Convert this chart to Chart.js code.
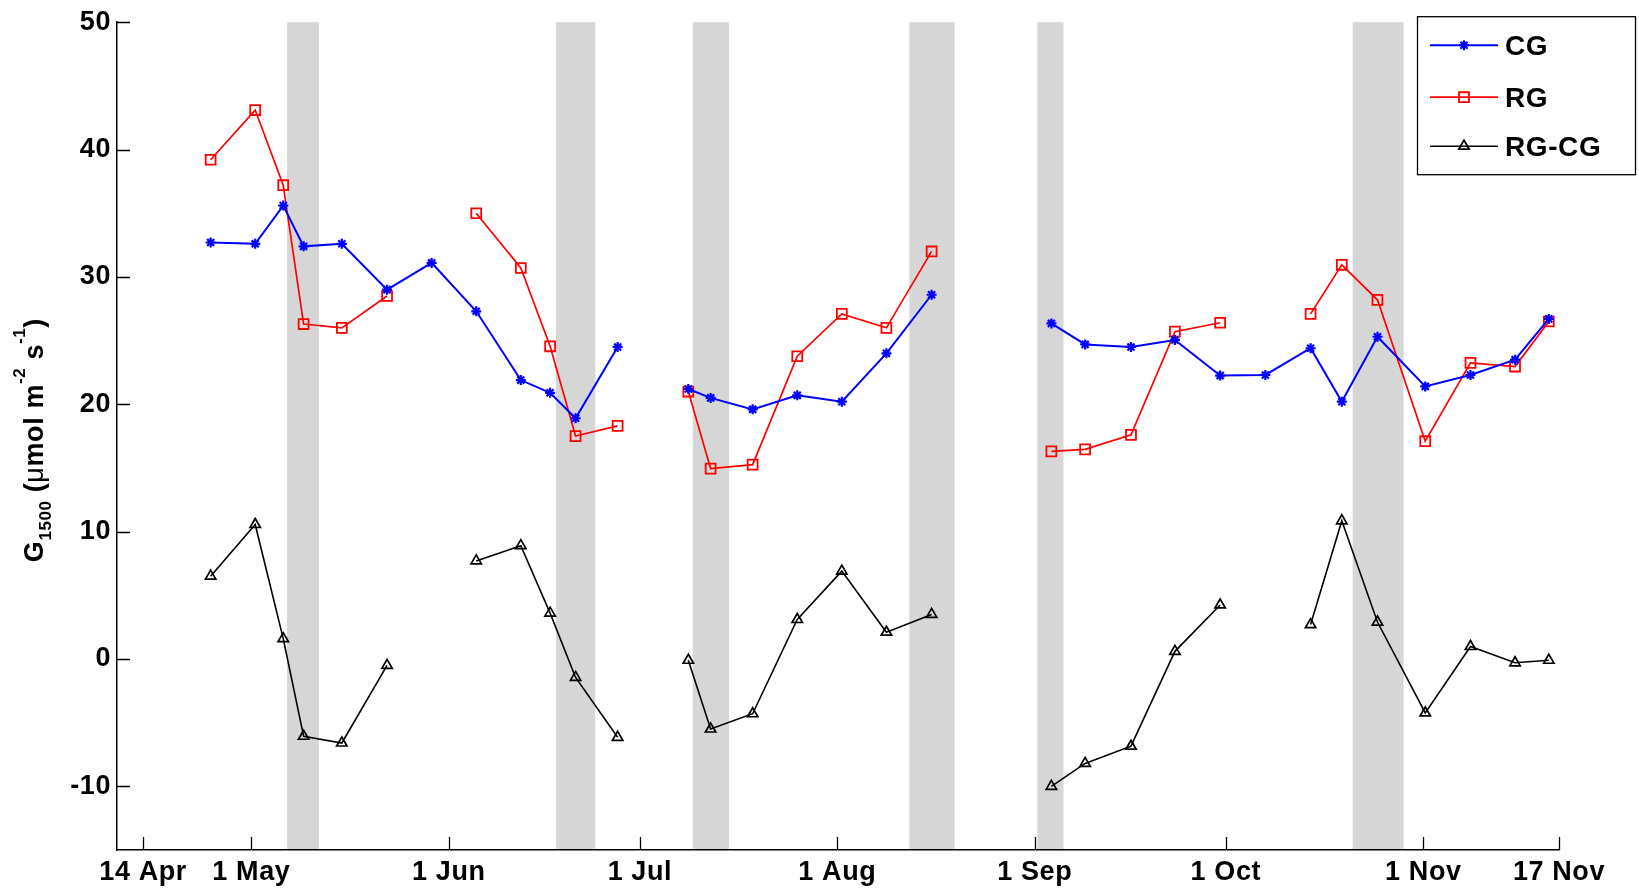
<!DOCTYPE html>
<html><head><meta charset="utf-8">
<script src="https://cdn.jsdelivr.net/npm/chart.js@4.4.1/dist/chart.umd.min.js"></script>
<style>html,body{margin:0;padding:0;background:#fff;overflow:hidden}canvas{display:block}</style>
</head><body>
<canvas id="c" width="1639" height="890"></canvas>
<script>
// sample dates as day of year (null rows mark the breaks between measurement campaigns)
const days = [114.6, 121.6, 126.0, 129.2, 135.2, 142.3, 149.3, 156.3, 163.3, 167.9, 171.9, 178.5,
  184.0,
  189.6, 193.1, 199.7, 206.7, 213.7, 220.7, 227.8,
  237.0,
  246.6, 251.9, 259.1, 266.0, 273.1, 280.2, 287.3, 292.2, 297.8, 305.3, 312.4, 319.4, 324.7];
const cg = [32.7, 32.6, 35.6, 32.4, 32.6, 29.0, 31.1, 27.3, 21.9, 20.9, 18.9, 24.5,
  null,
  21.2, 20.5, 19.6, 20.7, 20.2, 24.0, 28.6,
  null,
  26.35, 24.7, 24.5, 25.05, 22.25, 22.3, 24.4, 20.2, 25.3, 21.4, 22.3, 23.5, 26.7];
const rg = [39.2, 43.1, 37.2, 26.3, 26.0, 28.5, null, 35.0, 30.7, 24.55, 17.5, 18.3,
  null,
  21.0, 14.95, 15.26, 23.77, 27.1, 26.0, 32.0,
  null,
  16.3, 16.46, 17.6, 25.7, 26.4, null, 27.1, 30.95, 28.2, 17.1, 23.25, 22.96, 26.5];
const rgcg = [6.5, 10.56, 1.6, -6.07, -6.6, -0.5, null, 7.7, 8.9, 3.6, -1.45, -6.15,
  null,
  -0.1, -5.5, -4.3, 3.1, 6.9, 2.1, 3.5,
  null,
  -10.0, -8.2, -6.85, 0.6, 4.24, null, 2.7, 10.85, 2.9, -4.24, 0.98, -0.3, -0.1];
const seriesNames = ['CG', 'RG', 'RG-CG'];
const xTickDays = [104, 121, 152, 182, 213, 244, 274, 305, 326.3];
const xTickLabels = ['14 Apr', '1 May', '1 Jun', '1 Jul', '1 Aug', '1 Sep', '1 Oct', '1 Nov', '17 Nov'];
const yTicks = [-10, 0, 10, 20, 30, 40, 50];
const bandStart = [126.6, 168.8, 190.3, 224.3, 244.4, 293.9];
const bandEnd   = [131.6, 175.0, 196.0, 231.4, 248.5, 301.9];

const FONT = "'Liberation Sans', Arial, sans-serif";
const LS = '0.6px';

function mkDataset(label, arr, color, style, radius, bw, pbw) {
  return {
    label, data: days.map((d, i) => ({x: d, y: arr[i]})),
    borderColor: color, backgroundColor: color, borderWidth: bw,
    pointStyle: style, pointRadius: radius, pointBorderColor: color,
    pointBackgroundColor: 'rgba(0,0,0,0)', pointBorderWidth: pbw,
    pointHoverRadius: radius, spanGaps: false, tension: 0, fill: false
  };
}

function drawMarker(ctx, style, x, y, r, color, lw) {
  ctx.save();
  ctx.strokeStyle = color; ctx.lineWidth = lw;
  ctx.beginPath();
  if (style === 'star') {
    ctx.moveTo(x - r, y); ctx.lineTo(x + r, y);
    ctx.moveTo(x, y - r); ctx.lineTo(x, y + r);
    const d = r * Math.SQRT1_2;
    ctx.moveTo(x - d, y - d); ctx.lineTo(x + d, y + d);
    ctx.moveTo(x - d, y + d); ctx.lineTo(x + d, y - d);
  } else if (style === 'rect') {
    const s = r * Math.SQRT1_2;
    ctx.rect(x - s, y - s, 2 * s, 2 * s);
  } else if (style === 'triangle') {
    let a = 0;
    ctx.moveTo(x + Math.sin(a) * r, y - Math.cos(a) * r);
    a += 2 * Math.PI / 3; ctx.lineTo(x + Math.sin(a) * r, y - Math.cos(a) * r);
    a += 2 * Math.PI / 3; ctx.lineTo(x + Math.sin(a) * r, y - Math.cos(a) * r);
    ctx.closePath();
  }
  ctx.stroke();
  ctx.restore();
}

const decorPlugin = {
  id: 'decor',
  beforeLayout(chart) { chart.ctx.letterSpacing = LS; },
  beforeDraw(chart) {
    const {ctx, chartArea: ca, scales: {x}} = chart;
    ctx.letterSpacing = LS;
    ctx.save();
    ctx.fillStyle = '#fff';
    ctx.fillRect(0, 0, chart.width, chart.height);
    ctx.fillStyle = '#d6d6d6';
    for (let i = 0; i < bandStart.length; i++) {
      const a = x.getPixelForValue(bandStart[i]);
      const b = x.getPixelForValue(bandEnd[i]);
      ctx.fillRect(a, ca.top, b - a, ca.bottom - ca.top);
    }
    ctx.restore();
  },
  afterDraw(chart) {
    const {ctx, chartArea: ca, scales: {x, y}} = chart;
    ctx.save();
    // inward tick marks
    ctx.strokeStyle = '#000'; ctx.lineWidth = 1.3;
    ctx.beginPath();
    y.ticks.forEach(t => {
      const py = Math.round(y.getPixelForValue(t.value)) + 0.5;
      ctx.moveTo(ca.left, py); ctx.lineTo(ca.left + 13, py);
    });
    x.ticks.forEach(t => {
      const px = Math.round(x.getPixelForValue(t.value)) + 0.5;
      ctx.moveTo(px, ca.bottom); ctx.lineTo(px, ca.bottom - 13);
    });
    ctx.stroke();

    // y-axis title with sub/superscripts
    const pieces = [
      {t: 'G', k: 'n'}, {t: '1500', k: 'sub'}, {t: ' (', k: 'n'}, {t: '\u03bc', k: 'mu'},
      {t: 'mol m', k: 'n'}, {t: '-2', k: 'sup'}, {t: ' s', k: 'n'}, {t: '-1', k: 'sup'}, {t: ')', k: 'n'}
    ];
    const fontFor = k => k === 'n' ? `bold 27px ${FONT}` : k === 'mu' ? `27px ${FONT}` : `bold 17px ${FONT}`;
    const shift = k => k === 'sub' ? 8 : k === 'sup' ? -18 : 0;
    let total = 0;
    pieces.forEach(p => { ctx.font = fontFor(p.k); p.w = ctx.measureText(p.t).width; total += p.w; });
    ctx.translate(43, (ca.top + ca.bottom) / 2 + 4);
    ctx.rotate(-Math.PI / 2);
    ctx.fillStyle = '#000'; ctx.textBaseline = 'alphabetic'; ctx.textAlign = 'left';
    let cx = -total / 2;
    pieces.forEach(p => { ctx.font = fontFor(p.k); ctx.fillText(p.t, cx, shift(p.k)); cx += p.w; });
    ctx.setTransform(1, 0, 0, 1, 0, 0);

    // legend box
    const L = ca.right - 142, T = ca.top - 6, W = 218, H = 158;
    ctx.fillStyle = '#fff'; ctx.fillRect(L, T, W, H);
    ctx.strokeStyle = '#000'; ctx.lineWidth = 1.3;
    ctx.strokeRect(L + 0.5, T + 0.5, W, H);
    const rows = [29, 81, 130];
    chart.data.datasets.forEach((ds, i) => {
      const yy = T + rows[i];
      ctx.strokeStyle = ds.borderColor; ctx.lineWidth = ds.borderWidth;
      ctx.beginPath(); ctx.moveTo(L + 13, yy); ctx.lineTo(L + 81, yy); ctx.stroke();
      drawMarker(ctx, ds.pointStyle, L + 47, yy, ds.pointRadius, ds.borderColor, ds.pointBorderWidth);
      ctx.fillStyle = '#000'; ctx.font = `bold 28px ${FONT}`;
      ctx.textBaseline = 'middle'; ctx.textAlign = 'left';
      ctx.fillText(ds.label, L + 88, yy + 2);
    });
    ctx.restore();
  }
};

new Chart(document.getElementById('c'), {
  type: 'line',
  data: {
    datasets: [
      mkDataset(seriesNames[0], cg, '#0000ff', 'star', 5, 2, 2.2),
      mkDataset(seriesNames[1], rg, '#ff0000', 'rect', 7, 1.7, 1.8),
      mkDataset(seriesNames[2], rgcg, '#000000', 'triangle', 6, 1.6, 1.7)
    ]
  },
  options: {
    responsive: false, animation: false, devicePixelRatio: 1,
    layout: {padding: {left: 0, right: 80, top: 21, bottom: 0}},
    plugins: {legend: {display: false}, tooltip: {enabled: false}},
    scales: {
      x: {
        type: 'linear', min: 99.9, max: 326.3,
        afterBuildTicks: s => { s.ticks = xTickDays.map(v => ({value: v})); },
        afterFit: s => { s.height = 40; },
        ticks: {
          autoSkip: false, maxRotation: 0, minRotation: 0, padding: 6, color: '#000',
          font: {family: FONT, size: 27, weight: 'bold'},
          callback: (v, i) => xTickLabels[i]
        },
        grid: {display: false, drawTicks: false},
        border: {display: true, color: '#000', width: 1.5}
      },
      y: {
        type: 'linear', min: -15, max: 50,
        afterBuildTicks: s => { s.ticks = yTicks.map(v => ({value: v})); },
        afterFit: s => { s.width = 117; },
        ticks: {padding: 6, color: '#000', font: {family: FONT, size: 27, weight: 'bold'}},
        grid: {display: false, drawTicks: false},
        border: {display: true, color: '#000', width: 1.5}
      }
    }
  },
  plugins: [decorPlugin]
});
</script>
</body></html>
